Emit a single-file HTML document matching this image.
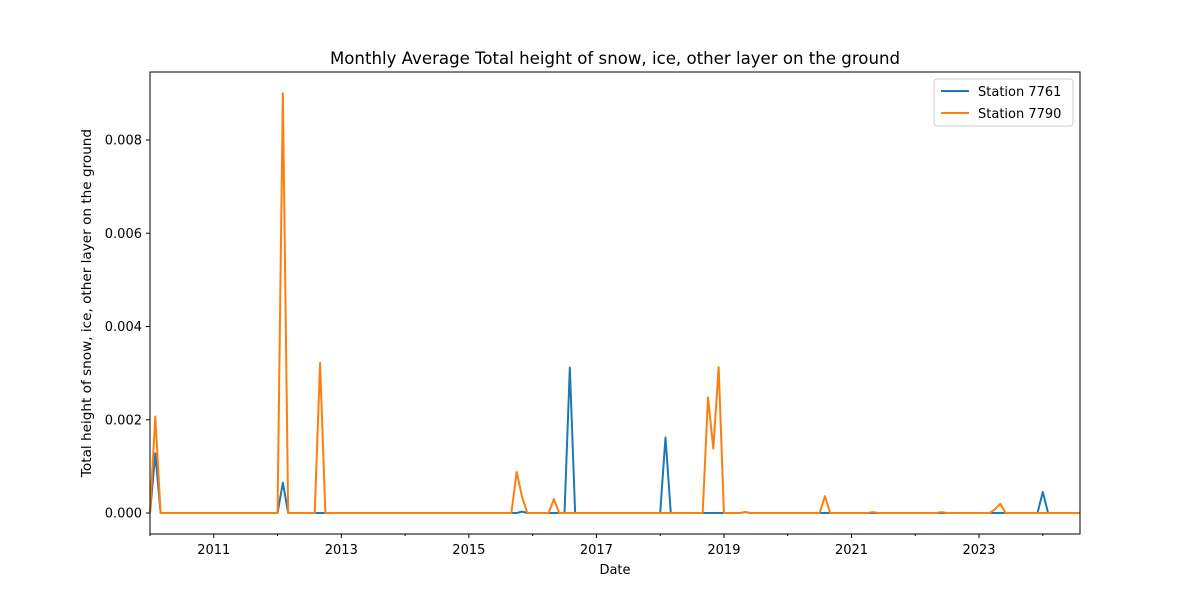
<!DOCTYPE html>
<html><head><meta charset="utf-8"><style>
body{margin:0;background:#fff;font-family:"Liberation Sans","DejaVu Sans",sans-serif}
</style></head><body>
<svg width="1200" height="600" xmlns="http://www.w3.org/2000/svg" font-family="DejaVu Sans, Liberation Sans, sans-serif">
<text x="615" y="64" font-size="16.6" text-anchor="middle">Monthly Average Total height of snow, ice, other layer on the ground</text>
<g id="plot"></g>
<rect x="150" y="72" width="930" height="462" fill="none" stroke="#000" stroke-width="1"/>
<text x="615" y="574" font-size="13" text-anchor="middle">Date</text>
<text transform="translate(91,303) rotate(-90)" font-size="13.6" text-anchor="middle">Total height of snow, ice, other layer on the ground</text>
<g>
<rect x="934" y="79" width="139" height="47" fill="#fff" stroke="#ccc" rx="3"/>
<line x1="941" y1="91" x2="969" y2="91" stroke="#1f77b4" stroke-width="2"/>
<text x="978" y="96" font-size="13">Station 7761</text>
<line x1="941" y1="113" x2="969" y2="113" stroke="#ff7f0e" stroke-width="2"/>
<text x="978" y="118" font-size="13">Station 7790</text>
</g>
</svg>
<script>
const nMonths = 176; // Jan 2010 .. Aug 2024
const spikes7761 = [[1,0.00128],[25,0.00065],[70,0.00003],[79,0.00312],[97,0.00162],[112,0.00002],[168,0.00045]];
const spikes7790 = [[1,0.00207],[25,0.009],[32,0.00322],[69,0.00088],[70,0.00035],[76,0.0003],[105,0.00248],[106,0.00138],[107,0.00313],[112,0.00002],[127,0.00036],[136,0.00002],[149,0.00002],[159,0.00008],[160,0.0002]];
const yTicks = [0,0.002,0.004,0.006,0.008];
const yLabels = ["0.000","0.002","0.004","0.006","0.008"];
const xYears = [2011,2013,2015,2017,2019,2021,2023];

const NS="http://www.w3.org/2000/svg";
const g=document.getElementById('plot');
const X=i=>150+i*(930/(nMonths-1));
const Y=v=>513-v*(373/0.008);
function el(t,a){const e=document.createElementNS(NS,t);for(const k in a)e.setAttribute(k,a[k]);g.appendChild(e);return e;}
function series(sp){const s=new Array(nMonths).fill(0);sp.forEach(([i,v])=>s[i]=v);return s;}
yTicks.forEach((v,k)=>{
  const t=el('line',{x1:146,x2:150,y1:Y(v),y2:Y(v),stroke:'#000'});
  
  
  const l=el('text',{x:142,y:Y(v)+4.5,'font-size':13,'text-anchor':'end'});
  l.textContent=yLabels[k];
  
  
});
for(let yr=2010;yr<=2024;yr++){
  const x=X((yr-2010)*12);
  const major=xYears.includes(yr);
  const t=el('line',{x1:x,x2:x,y1:534,y2:major?538:536,stroke:'#000'});
  
  
  if(major){
    const l=el('text',{x:x,y:554,'font-size':13,'text-anchor':'middle'});
    l.textContent=yr;
    
    
  }
}
[[spikes7761,'#1f77b4','line-station-7761'],[spikes7790,'#ff7f0e','line-station-7790']].forEach(([sp,c,n])=>{
  const s=series(sp);
  const p=el('polyline',{points:s.map((v,i)=>X(i)+','+Y(v)).join(' '),fill:'none',stroke:c,'stroke-width':2,'stroke-linejoin':'round'});
  
  
});
</script>
</body></html>
